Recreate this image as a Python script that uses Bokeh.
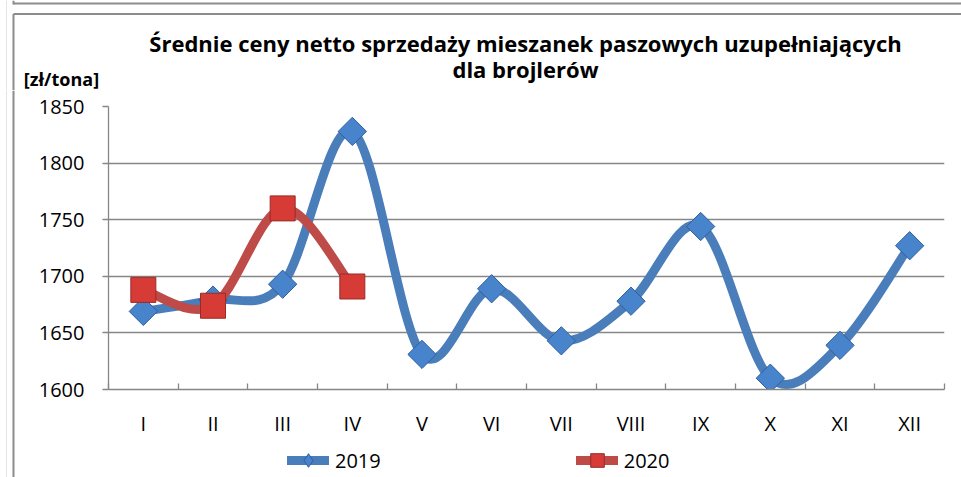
import numpy as np
from bokeh.plotting import figure
from bokeh.layouts import column, row
from bokeh.models import (FixedTicker, Legend, LegendItem, Range1d,
                          ColumnDataSource, Span)
from bokeh.core.properties import value
from bokeh.embed import file_html
from bokeh.resources import INLINE

# ---------------- data ----------------
months = ["I", "II", "III", "IV", "V", "VI", "VII", "VIII", "IX", "X", "XI", "XII"]
v2019 = [1669, 1679, 1693, 1828, 1631, 1689, 1643, 1678, 1744, 1610, 1639, 1727]
v2020 = [1688, 1674, 1760, 1691]
y_ticks = [1600, 1650, 1700, 1750, 1800, 1850]
series_names = ["2019", "2020"]
title_lines = ["Średnie ceny netto sprzedaży mieszanek paszowych uzupełniających",
               "dla brojlerów"]
unit_label = "[zł/tona]"

BLUE_LINE = "#4a7ebb"
BLUE_FILL = "#4884cc"
BLUE_EDGE = "#2f5f9c"
RED_LINE = "#be4b48"
RED_FILL = "#d63b36"
RED_EDGE = "#9c2a27"
GRID = "#868686"
FRAME = "#8c8c8c"
FAINT = "#e4e4e4"
FONT = "Open Sans"

W = 961
H = 477
HEAD_H = 90          # header band (titles, unit label)
STRIP_W = 20         # left band holding the chart frame edge
FOOT_H = 38          # legend band
MAIN_H = H - HEAD_H - FOOT_H
PLOT_LEFT = 108      # page x of the value axis


def smooth_segments(vals, t=1.0 / 6.0):
    """Bezier control points (Catmull-Rom style) through the data points."""
    y = np.asarray(vals, dtype=float)
    x = np.arange(1, len(y) + 1, dtype=float)
    n = len(y)
    px = np.concatenate([[x[0]], x, [x[-1]]])
    py = np.concatenate([[y[0]], y, [y[-1]]])
    cx0 = px[1:n] + (px[2:n + 1] - px[0:n - 1]) * t
    cy0 = py[1:n] + (py[2:n + 1] - py[0:n - 1]) * t
    cx1 = px[2:n + 1] - (px[3:n + 2] - px[1:n]) * t
    cy1 = py[2:n + 1] - (py[3:n + 2] - py[1:n]) * t
    return ColumnDataSource(dict(x0=x[:-1], y0=y[:-1], x1=x[1:], y1=y[1:],
                                 cx0=cx0, cy0=cy0, cx1=cx1, cy1=cy1))


def bare(fig):
    fig.outline_line_color = None
    fig.xgrid.grid_line_color = None
    fig.ygrid.grid_line_color = None
    fig.background_fill_color = "white"
    fig.border_fill_color = "white"
    return fig


def plain_fig(w, h, xr, yr):
    return bare(figure(width=w, height=h, x_range=xr, y_range=yr,
                       output_backend="svg", toolbar_location=None,
                       x_axis_type=None, y_axis_type=None,
                       min_border=0, min_border_left=0, min_border_right=0,
                       min_border_top=0, min_border_bottom=0))


# ---------------- header (titles, unit, chart frame top) ----------------
head = plain_fig(W, HEAD_H, Range1d(0, W), Range1d(HEAD_H, 0))
head.add_layout(Span(location=6, dimension="height", line_color=FAINT, line_width=1))
head.segment(x0=[13, 13, 13, 13], y0=[3, 0, 13.5, 13.5],
             x1=[W, 13, W, 13], y1=[3, 4, 13.5, HEAD_H],
             line_color=FRAME, line_width=2)
head.text(x=[525, 525], y=[42, 68], text=title_lines, text_align="center",
          text_baseline="alphabetic", text_font=value(FONT),
          text_font_style="bold", text_font_size="22px", text_color="black")
head.text(x=[61], y=[78], text=[unit_label], text_align="center",
          text_baseline="alphabetic", text_font=value(FONT),
          text_font_style="bold", text_font_size="18px", text_color="black")

# ---------------- left strip (chart frame left edge) ----------------
strip = plain_fig(STRIP_W, H - HEAD_H, Range1d(0, STRIP_W), Range1d(0, H - HEAD_H))
strip.add_layout(Span(location=6, dimension="height", line_color=FAINT, line_width=1))
strip.add_layout(Span(location=13, dimension="height", line_color=FRAME, line_width=2))

# ---------------- main chart ----------------
p = figure(width=W - STRIP_W, height=MAIN_H,
           x_range=Range1d(0.5, 12.5), y_range=Range1d(1600, 1850),
           output_backend="svg", toolbar_location=None,
           min_border_left=PLOT_LEFT - STRIP_W, min_border_right=17,
           min_border_top=106 - HEAD_H, min_border_bottom=MAIN_H - (389 - HEAD_H))
p.outline_line_color = None
p.background_fill_color = "white"
p.border_fill_color = "white"

p.xgrid.grid_line_color = None
p.ygrid.ticker = FixedTicker(ticks=y_ticks)
p.ygrid.grid_line_color = GRID
p.ygrid.grid_line_width = 1.3

p.yaxis.ticker = FixedTicker(ticks=y_ticks)
p.yaxis.axis_line_color = GRID
p.yaxis.axis_line_width = 1.3
p.yaxis.major_tick_line_color = GRID
p.yaxis.major_tick_line_width = 1.3
p.yaxis.major_tick_in = 0
p.yaxis.major_tick_out = 6
p.yaxis.minor_tick_line_color = None
p.yaxis.major_label_standoff = 18
p.yaxis.major_label_text_font = FONT
p.yaxis.major_label_text_font_size = "20px"
p.yaxis.major_label_text_color = "black"

p.xaxis.ticker = FixedTicker(ticks=list(range(1, 13)),
                             minor_ticks=[i + 0.5 for i in range(13)])
p.xaxis.major_label_overrides = {i + 1: m for i, m in enumerate(months)}
p.xaxis.axis_line_color = GRID
p.xaxis.axis_line_width = 1.3
p.xaxis.major_tick_line_color = None
p.xaxis.major_tick_in = 0
p.xaxis.major_tick_out = 0
p.xaxis.minor_tick_line_color = GRID
p.xaxis.minor_tick_line_width = 1.3
p.xaxis.minor_tick_in = 6
p.xaxis.minor_tick_out = 0
p.xaxis.major_label_standoff = 20
p.xaxis.major_label_text_font = FONT
p.xaxis.major_label_text_font_size = "20px"
p.xaxis.major_label_text_color = "black"

src19 = smooth_segments(v2019)
src20 = smooth_segments(v2020)
pts19 = ColumnDataSource(dict(x=list(range(1, len(v2019) + 1)), y=v2019))
pts20 = ColumnDataSource(dict(x=list(range(1, len(v2020) + 1)), y=v2020))

line_kw = dict(x0="x0", y0="y0", x1="x1", y1="y1", cx0="cx0", cy0="cy0",
               cx1="cx1", cy1="cy1", line_width=9, line_cap="round")
blue_mk = dict(marker="square", angle=np.pi / 4, size=20, fill_color=BLUE_FILL,
               line_color=BLUE_EDGE, line_width=1)
red_mk = dict(marker="square", size=25, fill_color=RED_FILL,
              line_color=RED_EDGE, line_width=1)

p.bezier(source=src19, line_color=BLUE_LINE, **line_kw)
p.scatter("x", "y", source=pts19, **blue_mk)
p.bezier(source=src20, line_color=RED_LINE, **line_kw)
p.scatter("x", "y", source=pts20, **red_mk)

# ---------------- footer (legend; its frame is aligned with the chart's) ----------------
foot = plain_fig(W - STRIP_W, FOOT_H, Range1d(100, 101), Range1d(100, 101))
fbl = foot.bezier(source=src19, line_color=BLUE_LINE, **line_kw)
fbm = foot.scatter("x", "y", source=pts19, marker="diamond", size=20,
                   fill_color=BLUE_FILL, line_color=BLUE_EDGE, line_width=1)
frl = foot.bezier(source=src20, line_color=RED_LINE, **line_kw)
frm = foot.scatter("x", "y", source=pts20, **red_mk)
legend = Legend(items=[LegendItem(label=series_names[0], renderers=[fbl, fbm]),
                       LegendItem(label=series_names[1], renderers=[frl, frm])],
                orientation="horizontal", location=(287 - PLOT_LEFT, 0),
                glyph_width=42, glyph_height=34, label_standoff=6, spacing=195,
                padding=0, margin=0, border_line_color=None,
                background_fill_alpha=0, label_text_font=FONT,
                label_text_font_size="20px", label_text_color="black")
foot.add_layout(legend)

layout = column(head, row(strip, column(p, foot)))
open("out.html", "w").write(file_html(layout, INLINE))
